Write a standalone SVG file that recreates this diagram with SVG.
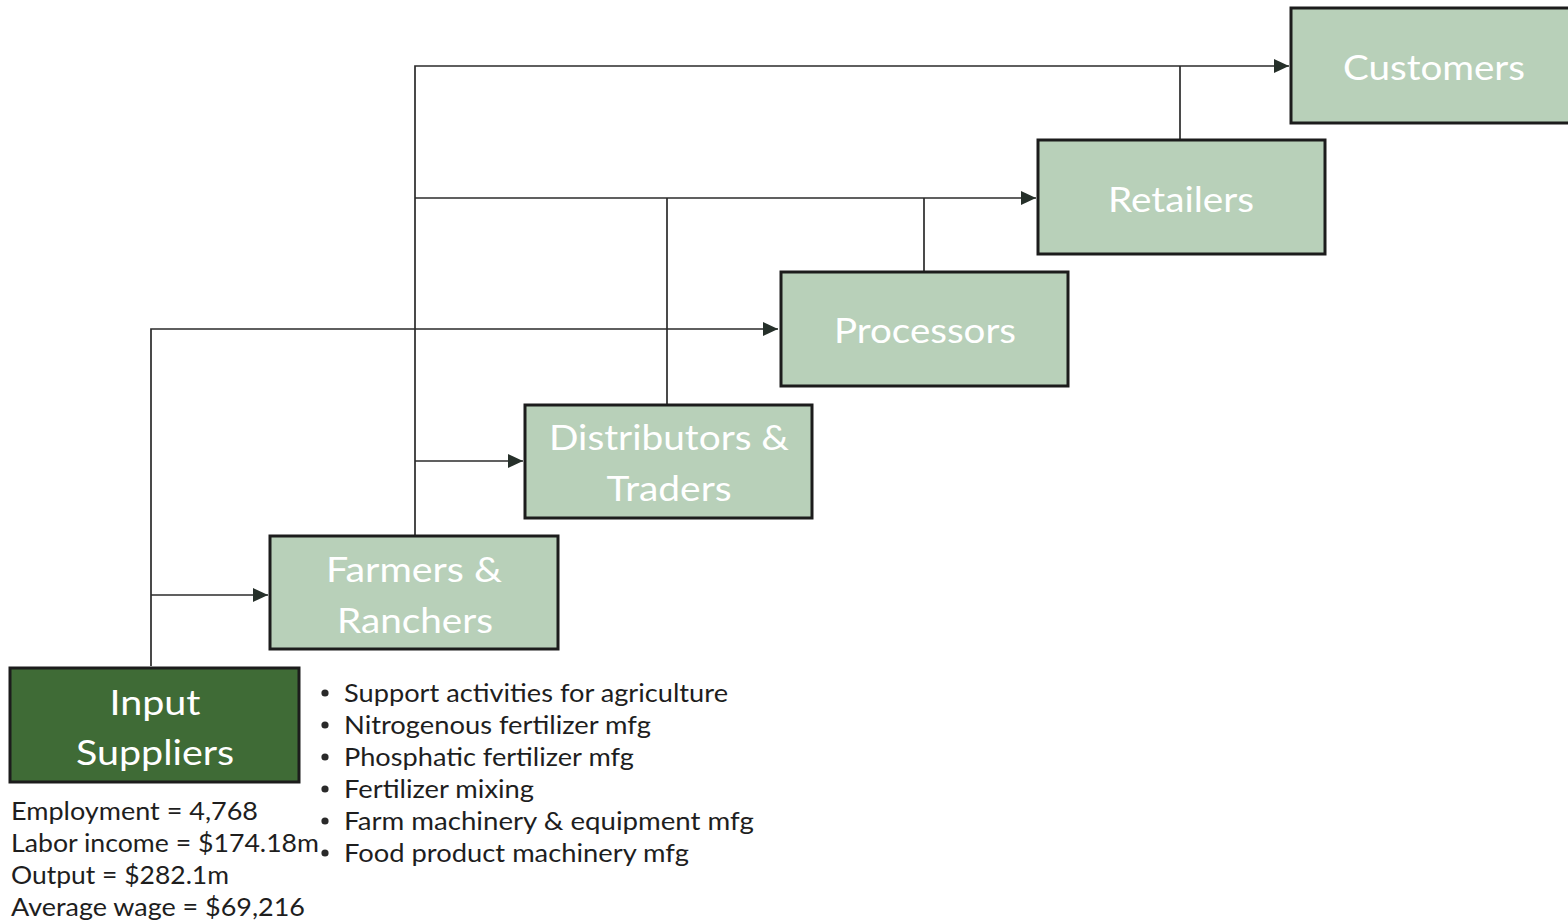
<svg xmlns="http://www.w3.org/2000/svg" width="1568" height="922" viewBox="0 0 1568 922">
  <style>
    .box { fill: #b8d0b9; stroke: #1c1c1c; stroke-width: 3; }
    .box-dark { fill: #3f6b36; stroke: #1c1c1c; stroke-width: 3; }
    .label { font-family: Lato, "Open Sans", "Liberation Sans", sans-serif; font-size: 34px; fill: #ffffff; text-anchor: middle; }
    .note { font-family: Lato, "Open Sans", "Liberation Sans", sans-serif; font-size: 25px; fill: #1e1e1e; }
    .wire { fill: none; stroke: #2b2b2b; stroke-width: 1.7; }
    .dot { fill: #2a2a2a; }
  </style>
  <defs>
    <marker id="arrow" markerWidth="16" markerHeight="16" refX="15" refY="8" orient="auto" markerUnits="userSpaceOnUse">
      <path d="M0,1 L15,8 L0,15 Z" fill="#26302a"/>
    </marker>
  </defs>

  <rect width="1568" height="922" fill="#ffffff"/>

  <!-- connectors -->
  <g id="connectors">
    <!-- from Input Suppliers -->
    <path class="wire" d="M151,666 V329 H778" marker-end="url(#arrow)"/>
    <path class="wire" d="M151,595 H268" marker-end="url(#arrow)"/>
    <!-- from Farmers & Ranchers -->
    <path class="wire" d="M415,535 V66 H1289" marker-end="url(#arrow)"/>
    <path class="wire" d="M415,198 H1036" marker-end="url(#arrow)"/>
    <path class="wire" d="M415,461 H523" marker-end="url(#arrow)"/>
    <!-- from Distributors, Processors, Retailers -->
    <path class="wire" d="M667,404 V198"/>
    <path class="wire" d="M924,271 V198"/>
    <path class="wire" d="M1180,139 V66"/>
  </g>

  <g id="customers">
    <rect class="box" x="1291" y="8" width="300" height="115"/>
    <text class="label" x="1434" y="80" textLength="182" lengthAdjust="spacingAndGlyphs">Customers</text>
  </g>

  <g id="retailers">
    <rect class="box" x="1038" y="140" width="287" height="114"/>
    <text class="label" x="1181" y="212" textLength="146" lengthAdjust="spacingAndGlyphs">Retailers</text>
  </g>

  <g id="processors">
    <rect class="box" x="781" y="272" width="287" height="114"/>
    <text class="label" x="925" y="343" textLength="182" lengthAdjust="spacingAndGlyphs">Processors</text>
  </g>

  <g id="distributors">
    <rect class="box" x="525" y="405" width="287" height="113"/>
    <text class="label" x="669" y="450" textLength="240" lengthAdjust="spacingAndGlyphs">Distributors &amp;</text>
    <text class="label" x="669" y="501" textLength="125" lengthAdjust="spacingAndGlyphs">Traders</text>
  </g>

  <g id="farmers">
    <rect class="box" x="270" y="536" width="288" height="113"/>
    <text class="label" x="414" y="582" textLength="176" lengthAdjust="spacingAndGlyphs">Farmers &amp;</text>
    <text class="label" x="415" y="633" textLength="156" lengthAdjust="spacingAndGlyphs">Ranchers</text>
  </g>

  <g id="input-suppliers">
    <rect class="box-dark" x="10" y="668" width="289" height="114"/>
    <text class="label" x="155" y="715" textLength="91" lengthAdjust="spacingAndGlyphs">Input</text>
    <text class="label" x="155" y="765" textLength="158" lengthAdjust="spacingAndGlyphs">Suppliers</text>
  </g>

  <!-- figures for input suppliers -->
  <g id="input-stats">
    <text class="note" x="11" y="820" textLength="247" lengthAdjust="spacingAndGlyphs">Employment = 4,768</text>
    <text class="note" x="11" y="852" textLength="308" lengthAdjust="spacingAndGlyphs">Labor income = $174.18m</text>
    <text class="note" x="11" y="884" textLength="218" lengthAdjust="spacingAndGlyphs">Output = $282.1m</text>
    <text class="note" x="11" y="916" textLength="294" lengthAdjust="spacingAndGlyphs">Average wage = $69,216</text>
  </g>

  <!-- industries list -->
  <g id="input-industries">
    <circle class="dot" cx="325" cy="693" r="3.6"/>
    <circle class="dot" cx="325" cy="725" r="3.6"/>
    <circle class="dot" cx="325" cy="757" r="3.6"/>
    <circle class="dot" cx="325" cy="789" r="3.6"/>
    <circle class="dot" cx="325" cy="821" r="3.6"/>
    <circle class="dot" cx="325" cy="853" r="3.6"/>
    <text class="note" x="344" y="702" textLength="384" lengthAdjust="spacingAndGlyphs">Support activities for agriculture</text>
    <text class="note" x="344" y="734" textLength="307" lengthAdjust="spacingAndGlyphs">Nitrogenous fertilizer mfg</text>
    <text class="note" x="344" y="766" textLength="290" lengthAdjust="spacingAndGlyphs">Phosphatic fertilizer mfg</text>
    <text class="note" x="344" y="798" textLength="190" lengthAdjust="spacingAndGlyphs">Fertilizer mixing</text>
    <text class="note" x="344" y="830" textLength="410" lengthAdjust="spacingAndGlyphs">Farm machinery &amp; equipment mfg</text>
    <text class="note" x="344" y="862" textLength="345" lengthAdjust="spacingAndGlyphs">Food product machinery mfg</text>
  </g>
</svg>
